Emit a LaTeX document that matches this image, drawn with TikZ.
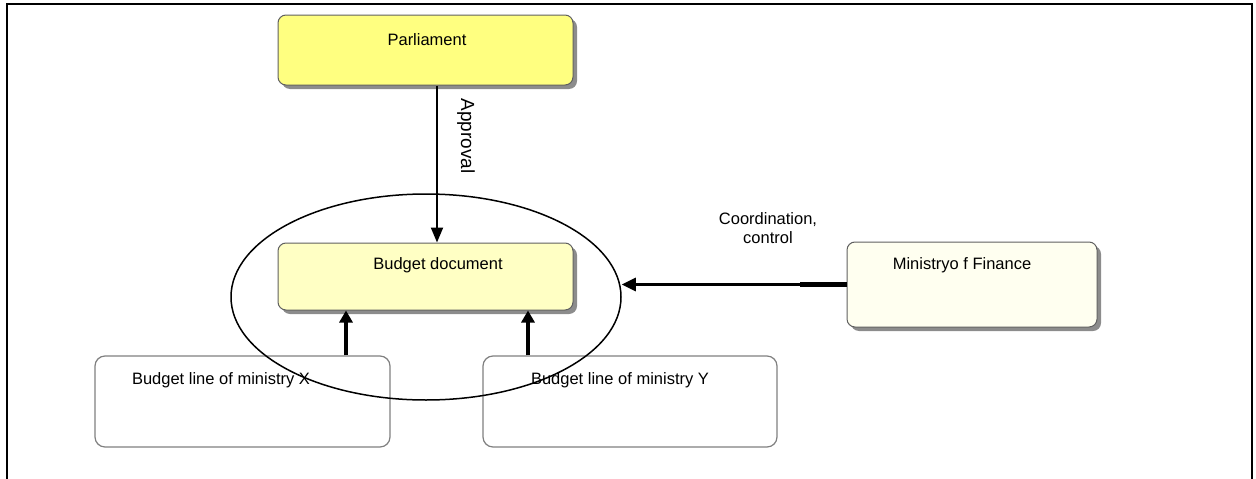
\documentclass[tikz,border=0pt]{standalone}
\usepackage{fontspec}
\setmainfont{Liberation Sans}
\usetikzlibrary{arrows.meta,shapes.geometric,shadows,calc}

\definecolor{parlfill}{HTML}{FFFF80}
\definecolor{docfill}{HTML}{FFFFC4}
\definecolor{finfill}{HTML}{FFFFF0}
\definecolor{boxline}{HTML}{606060}
\definecolor{shadowgray}{HTML}{8C8C8C}

\tikzset{
  bodytext/.style={font=\fontsize{16.5}{19}\selectfont, inner sep=0pt},
  shadowbox/.style={draw=boxline, line width=1pt, rounded corners=8pt,
    drop shadow={shadow xshift=4pt, shadow yshift=-4pt, fill=shadowgray, opacity=1}},
  linebox/.style={draw=gray, line width=1.2pt, fill=white, rounded corners=10pt},
  approvalarrow/.style={line width=2pt, -{Triangle[width=12pt,length=15pt]}},
  uparrow/.style={line width=4pt, -{Triangle[width=13pt,length=12pt]}},
  finarrow/.style={line width=3pt, -{Triangle[width=13pt,length=14pt]}},
  frameline/.style={line width=2pt},
}

\begin{document}
\begin{tikzpicture}[x=1pt,y=-1pt]
  \useasboundingbox (0,0) rectangle (1256,479);

  % outer frame, open at the bottom
  \draw[frameline] (6.5,480) -- (6.5,3.5) -- (1252,3.5) -- (1252,480);

  % boxes
  \node[shadowbox, fill=parlfill, minimum width=295pt, minimum height=70pt, inner sep=0pt]
    (parl) at (425.5,50) {};
  \node[shadowbox, fill=docfill, minimum width=295pt, minimum height=67pt, inner sep=0pt]
    (bdoc) at (425.5,276.5) {};
  \node[shadowbox, fill=finfill, minimum width=250pt, minimum height=85pt, inner sep=0pt]
    (mof) at (972,284.5) {};
  \node[linebox, minimum width=295pt, minimum height=91pt, inner sep=0pt]
    (bx) at (242.5,401.5) {};
  \node[linebox, minimum width=294pt, minimum height=91pt, inner sep=0pt]
    (by) at (630,401.5) {};

  % box captions
  \node[bodytext] (parltext) at (427,40) {Parliament};
  \node[bodytext] (bdoctext) at (438,265) {Budget document};
  \node[bodytext] (moftext) at (962,265) {Ministryo f Finance};

  % ellipse grouping the budget document and its lines
  \node[draw, ellipse, line width=1.5pt, minimum width=390pt, minimum height=206pt,
    inner sep=0pt] (scope) at (426,297) {};

  \node[bodytext] (bxtext) at (221,380) {Budget line of ministry X};
  \node[bodytext] (bytext) at (620,380) {Budget line of ministry Y};

  % connectors
  \draw[approvalarrow] ([xshift=11.5pt]parl.south) -- ([xshift=11.5pt]bdoc.north);
  \node[bodytext, font=\fontsize{19}{22}\selectfont, rotate=-90] (approval) at (466,136) {Approval};

  \draw[uparrow] ([xshift=103.5pt]bx.north) -- ([xshift=103.5pt]bx.north |- bdoc.south);
  \draw[uparrow] ([xshift=-102pt]by.north) -- ([xshift=-102pt]by.north |- bdoc.south);

  \draw[finarrow] (mof.west) -- (mof.west -| scope.east);
  \draw[line width=5pt] (mof.west) -- ++(-47,0);

  \node[bodytext, align=center] (coord) at (768,228) {Coordination,\\control};
\end{tikzpicture}
\end{document}
